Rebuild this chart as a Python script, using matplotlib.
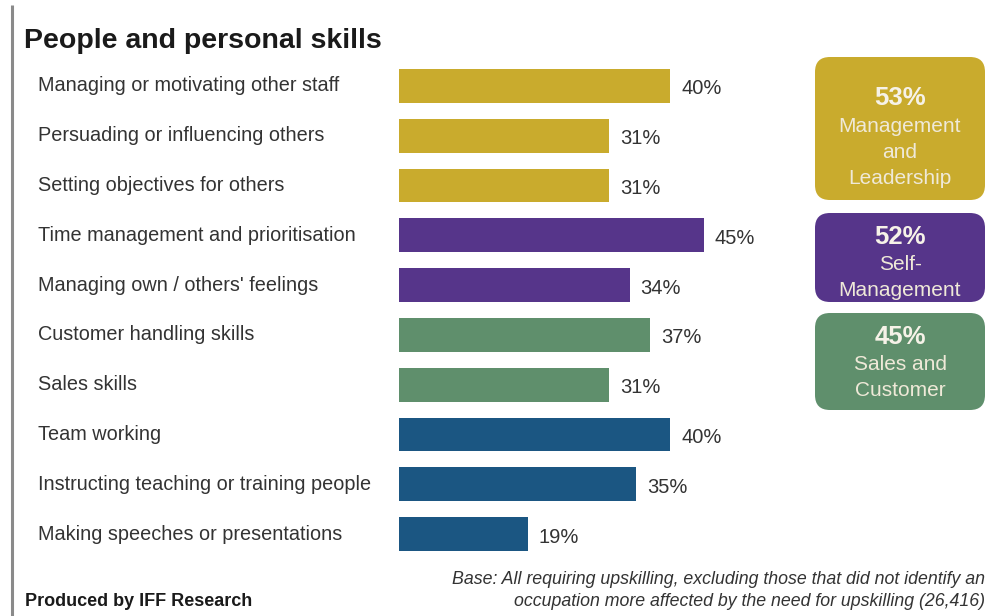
import matplotlib
matplotlib.use("Agg")
import matplotlib.pyplot as plt
from matplotlib.patches import FancyBboxPatch
from matplotlib.transforms import blended_transform_factory

plt.rcParams['font.family'] = ['Liberation Sans', 'DejaVu Sans']

# Skills and share of employers reporting the need (%)
skills = [
    "Managing or motivating other staff",
    "Persuading or influencing others",
    "Setting objectives for others",
    "Time management and prioritisation",
    "Managing own / others' feelings",
    "Customer handling skills",
    "Sales skills",
    "Team working",
    "Instructing teaching or training people",
    "Making speeches or presentations",
]
values = [40, 31, 31, 45, 34, 37, 31, 40, 35, 19]
groups = ["lead", "lead", "lead", "self", "self", "sales", "sales", "team", "team", "team"]

# Group summary boxes
box_pct = ["53%", "52%", "45%"]
box_names = [["Management", "and", "Leadership"], ["Self-", "Management"], ["Sales and", "Customer"]]
box_groups = ["lead", "self", "sales"]

colors = {
    "lead": "#C9AB2D",
    "self": "#56358A",
    "sales": "#5F8F6C",
    "team": "#1B5682",
}

W, H = 990, 616
fig = plt.figure(figsize=(W / 100, H / 100), dpi=100)
fig.patch.set_facecolor("white")

# full-figure overlay in pixel coordinates for decorations
deco = fig.add_axes([0, 0, 1, 1])
deco.set_xlim(0, W)
deco.set_ylim(H, 0)
deco.axis("off")

# bar axes: 0..60% over 399..806 px, rows centred 86..534 px
x0, x1 = 399, 399 + 6.78 * 60
y_top, y_bot = 61, 559
ax = fig.add_axes([x0 / W, 1 - y_bot / H, (x1 - x0) / W, (y_bot - y_top) / H])
ax.set_xlim(0, 60)
ax.set_ylim(len(skills) - 0.5, -0.5)
ax.axis("off")

ypos = list(range(len(skills)))
ax.barh(ypos, values, height=0.68, color=[colors[g] for g in groups])
for y, v in zip(ypos, values):
    ax.text(v + 1.6, y + 0.06, f"{v}%", va="center", ha="left",
            fontsize=14.5, color="#333333")

lab_tr = blended_transform_factory(fig.transFigure, ax.transData)
for y, s in zip(ypos, skills):
    ax.text(38 / W, y, s, transform=lab_tr, va="center", ha="left",
            fontsize=14.3, color="#333333")

# left rule and title
deco.plot([12, 12], [5, H], color="#8a8a8a", lw=2.2, solid_capstyle="butt")
deco.text(24, 41, "People and personal skills", fontsize=20.5, fontweight="bold",
          color="#1a1a1a", va="center", ha="left")

# summary boxes on the right: rectangle, heading y, first line y
box_rects = [(815, 57, 170, 143), (815, 213, 170, 89), (815, 313, 170, 97)]
box_text_y = [(98, 127), (237, 265), (337, 365)]
for (bx, by, bw, bh), (py, ly), pct, lines, g in zip(box_rects, box_text_y, box_pct,
                                                      box_names, box_groups):
    deco.add_patch(FancyBboxPatch((bx + 12, by + 12), bw - 24, bh - 24,
                                  boxstyle="round,pad=12,rounding_size=15",
                                  facecolor=colors[g], edgecolor="none"))
    cx = bx + bw / 2
    deco.text(cx, py, pct, fontsize=18.5, fontweight="bold",
              color="#F6F2E8", ha="center", va="center")
    for i, line in enumerate(lines):
        deco.text(cx, ly + i * 25.5, line, fontsize=15,
                  color="#EFE9D8", ha="center", va="center")

# footer
deco.text(25, 602, "Produced by IFF Research", fontsize=13, fontweight="bold",
          color="#1a1a1a", va="center", ha="left")
deco.text(985, 580,
          "Base: All requiring upskilling, excluding those that did not identify an",
          fontsize=12.8, style="italic", color="#333333", va="center", ha="right")
deco.text(985, 602,
          "occupation more affected by the need for upskilling (26,416)",
          fontsize=12.8, style="italic", color="#333333", va="center", ha="right")

fig.savefig("out.png", dpi=100, facecolor="white")
